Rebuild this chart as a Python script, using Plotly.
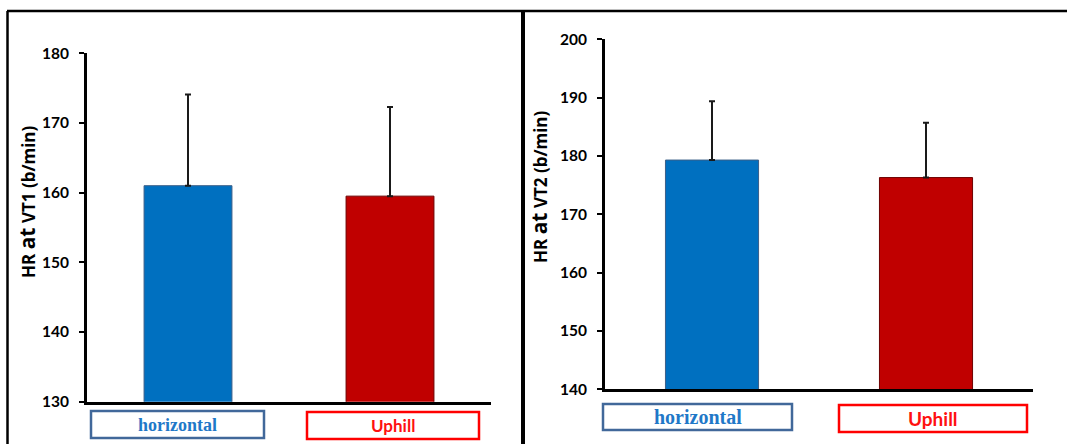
import plotly.graph_objects as go

W, H = 1067, 444

# Heart rate at the two ventilatory thresholds (mean, SD)
conditions = ["horizontal", "Uphill"]
hr_vt1_mean = [161.0, 159.5]
hr_vt1_sd = [13.1, 12.8]
hr_vt2_mean = [179.3, 176.3]
hr_vt2_sd = [10.1, 9.4]

vt1_ticks = [130, 140, 150, 160, 170, 180]
vt2_ticks = [140, 150, 160, 170, 180, 190, 200]

bar_fill = ["#0070c0", "#c00000"]
bar_edge = ["#3b5f88", "#6e0000"]
label_font = ["Liberation Serif", "Lato"]
label_color = ["#1f78c8", "#ff1010"]
box_color = ["#41689a", "#ff0000"]


def px(x):
    return x / W


def py(y):
    return 1 - y / H


fig = go.Figure()

for i, (mean, sd) in enumerate([(hr_vt1_mean, hr_vt1_sd), (hr_vt2_mean, hr_vt2_sd)]):
    xa = "x" if i == 0 else "x2"
    ya = "y" if i == 0 else "y2"
    fig.add_trace(go.Bar(
        x=conditions, y=mean, xaxis=xa, yaxis=ya,
        width=0.435,
        marker=dict(color=bar_fill, line=dict(color=bar_edge, width=1)),
        error_y=dict(type="data", symmetric=False, array=sd,
                     arrayminus=[0] * len(sd), color="#1a1a1a",
                     thickness=2, width=3),
        showlegend=False, hoverinfo="skip",
    ))

yaxis_common = dict(
    showgrid=False, zeroline=False, showline=True, linecolor="black",
    linewidth=3, ticks="outside", ticklen=5, tickwidth=2, tickcolor="black",
    tickfont=dict(family="Lato", size=15.5, color="black", weight="bold"),
    ticklabelstandoff=7, automargin=False,
)
xaxis_common = dict(
    showgrid=False, zeroline=False, showline=True, linecolor="black",
    linewidth=3, ticks="", showticklabels=False, range=[-0.5, 1.5],
    automargin=False,
)

fig.update_layout(
    template="none",
    width=W, height=H, autosize=False,
    margin=dict(l=0, r=0, t=0, b=0, pad=0),
    paper_bgcolor="white", plot_bgcolor="white",
    xaxis=dict(domain=[px(87), px(491)], anchor="y", **xaxis_common),
    yaxis=dict(domain=[py(401.7), py(53.3)], anchor="x", range=[130, 180],
               tickvals=vt1_ticks, **yaxis_common),
    xaxis2=dict(domain=[px(605), px(1033)], anchor="y2", **xaxis_common),
    yaxis2=dict(domain=[py(389.3), py(39.3)], anchor="x2", range=[140, 200],
                tickvals=vt2_ticks, **yaxis_common),
)

# Axis titles
titles = [
    ("HR <span style='font-size:21px'>at</span> VT1 (b/min)", 27, 202),
    ("HR <span style='font-size:21px'>at</span> VT2 (b/min)", 539, 187),
]
for text, x, y in titles:
    fig.add_annotation(
        text=text, xref="paper", yref="paper", x=px(x), y=py(y),
        textangle=-90, showarrow=False, xanchor="center", yanchor="middle",
        font=dict(family="Open Sans", size=17, color="black", weight="bold"),
    )

# Boxed category labels under each panel
label_boxes = [
    # (centre x, centre y, width, height, font size) per condition
    [(177.5, 424.5, 173, 27, 18), (393, 425.5, 172, 27, 17)],
    [(697.5, 417, 189, 26, 20), (933, 418.5, 188, 27, 19)],
]
for panel in label_boxes:
    for j, (cx, cy, bw, bh, fs) in enumerate(panel):
        fig.add_shape(type="rect", xref="paper", yref="paper",
                      x0=px(cx - bw / 2), x1=px(cx + bw / 2),
                      y0=py(cy + bh / 2), y1=py(cy - bh / 2),
                      line=dict(color=box_color[j], width=2.5),
                      fillcolor="white")
        fig.add_annotation(
            text=conditions[j], xref="paper", yref="paper",
            x=px(cx), y=py(cy), showarrow=False,
            xanchor="center", yanchor="middle",
            font=dict(family=label_font[j], size=fs, color=label_color[j],
                      weight="bold"),
        )

# Panel frames
frame = [
    (7, 11, W, 11, 2.5),
    (7.5, 11, 7.5, H, 2.5),
    (523, 11, 523, H, 4),
]
for x0, y0, x1, y1, lw in frame:
    fig.add_shape(type="line", xref="paper", yref="paper",
                  x0=px(x0), y0=py(y0), x1=px(x1), y1=py(y1),
                  line=dict(color="black", width=lw))

fig.write_html("out.html")
